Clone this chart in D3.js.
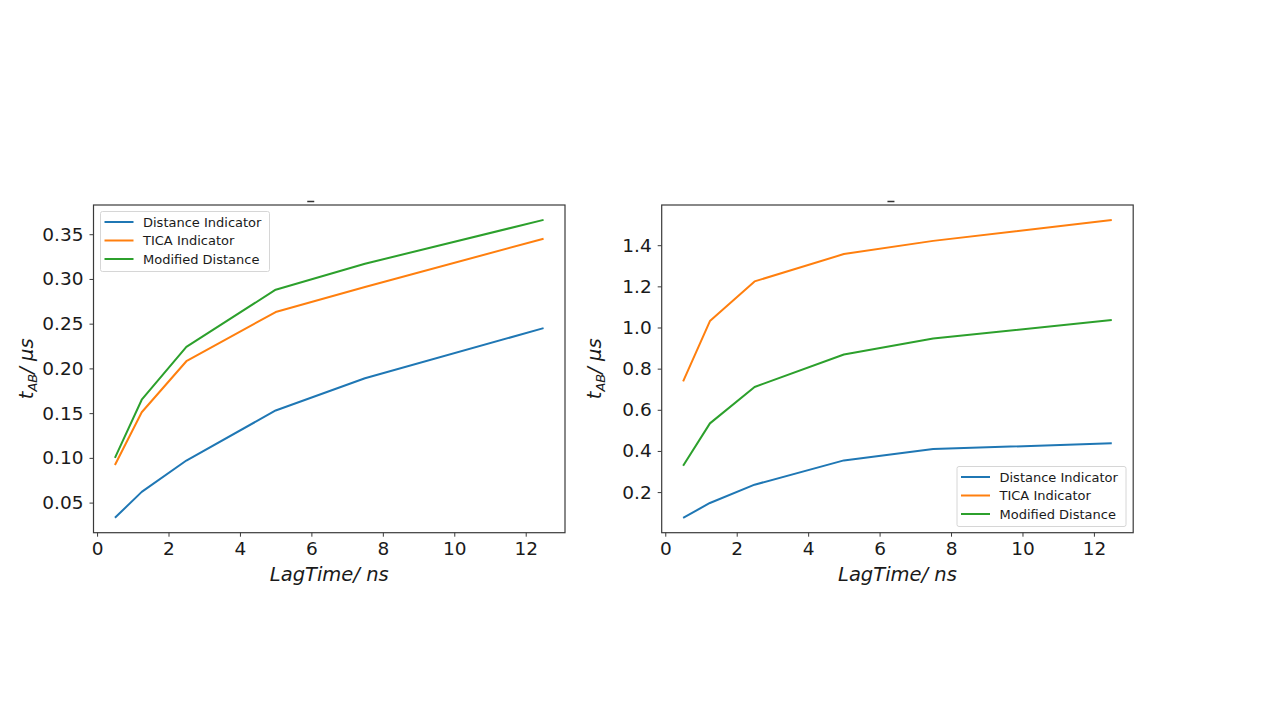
<!DOCTYPE html>
<html>
<head>
<meta charset="utf-8">
<script src="https://cdn.jsdelivr.net/npm/d3@7/dist/d3.min.js"></script>
<style>
  body { margin: 0; background: #fff; }
  svg { display: block; }
  text { font-family: "DejaVu Sans", sans-serif; fill: #1a1a1a; }
</style>
</head>
<body>
<svg id="chart" width="1280" height="720"></svg>
<script>
'use strict';

// lag times (ns) shared by both panels
var lagTimes = [0.5, 1.25, 2.5, 5, 7.5, 12.5];
var seriesNames = ['Distance Indicator', 'TICA Indicator', 'Modified Distance'];
var seriesColors = ['#1f77b4', '#ff7f0e', '#2ca02c'];

// left panel values (t_AB in us)
var leftDistance = [0.033, 0.062, 0.097, 0.153, 0.189, 0.245];
var leftTica = [0.092, 0.151, 0.208, 0.263, 0.291, 0.345];
var leftModified = [0.100, 0.165, 0.224, 0.288, 0.317, 0.366];

// right panel values
var rightDistance = [0.075, 0.147, 0.236, 0.354, 0.409, 0.437];
var rightTica = [0.738, 1.031, 1.224, 1.357, 1.421, 1.523];
var rightModified = [0.328, 0.534, 0.711, 0.869, 0.946, 1.037];

var xTicks = [0, 2, 4, 6, 8, 10, 12];
var leftYTicks = [0.05, 0.10, 0.15, 0.20, 0.25, 0.30, 0.35];
var rightYTicks = [0.2, 0.4, 0.6, 0.8, 1.0, 1.2, 1.4];

function render() {
    var d3 = window.d3;
    var svg = d3.select('#chart');
    var top = 205, bottom = 532.7, width = 471.5;

    // matplotlib-style 5% margins around data
    function padded(vals) {
        var lo = d3.min(vals), hi = d3.max(vals), m = (hi - lo) * 0.05;
        return [lo - m, hi + m];
    }

    function panel(left, series, yTicks, yFmt, legendPos, dashOffset) {
        var g = svg.append('g');
        var x = d3.scaleLinear().domain(padded(lagTimes)).range([left, left + width]);
        var all = [].concat.apply([], series);
        var y = d3.scaleLinear().domain(padded(all)).range([bottom, top]);

        var line = d3.line()
            .x(function (d, i) { return x(lagTimes[i]); })
            .y(function (d) { return y(d); });

        g.selectAll('.series').data(series).enter().append('path')
            .attr('d', line)
            .attr('fill', 'none')
            .attr('stroke', function (d, i) { return seriesColors[i]; })
            .attr('stroke-width', 2)
            .attr('stroke-linejoin', 'round');

        // frame
        g.append('rect')
            .attr('x', left).attr('y', top)
            .attr('width', width).attr('height', bottom - top)
            .attr('fill', 'none').attr('stroke', '#3a3a3a').attr('stroke-width', 1.2);

        // x axis
        var xAxis = d3.axisBottom(x).tickValues(xTicks).tickSize(4).tickPadding(5).tickFormat(d3.format('d'));
        var xa = g.append('g').attr('transform', 'translate(0,' + bottom + ')').call(xAxis);
        xa.select('.domain').remove();
        xa.selectAll('line').attr('stroke', '#3a3a3a');
        xa.selectAll('text').style('font-size', '18.5px').style('font-family', '"DejaVu Sans", sans-serif').attr('fill', '#1a1a1a');

        // y axis
        var yAxis = d3.axisLeft(y).tickValues(yTicks).tickSize(4).tickPadding(6).tickFormat(d3.format(yFmt));
        var ya = g.append('g').attr('transform', 'translate(' + left + ',0)').call(yAxis);
        ya.select('.domain').remove();
        ya.selectAll('line').attr('stroke', '#3a3a3a');
        ya.selectAll('text').style('font-size', '18.5px').style('font-family', '"DejaVu Sans", sans-serif').attr('fill', '#1a1a1a');

        // x label
        g.append('text')
            .attr('x', left + width / 2).attr('y', 581)
            .attr('text-anchor', 'middle')
            .style('font-size', '19.5px').style('font-style', 'italic')
            .text('LagTime/ ns');

        // y label: t_AB / μs
        var yl = g.append('text')
            .attr('transform', 'translate(' + (left - 61) + ',' + ((top + bottom) / 2) + ') rotate(-90)')
            .attr('text-anchor', 'middle')
            .style('font-size', '19.5px').style('font-style', 'italic');
        yl.append('tspan').text('t');
        yl.append('tspan').attr('dy', 4).style('font-size', '13px').text('AB');
        yl.append('tspan').attr('dy', -4).text('/ μs');

        // clipped title remnant
        g.append('line')
            .attr('x1', left + width / 2 + dashOffset).attr('x2', left + width / 2 + dashOffset + 7)
            .attr('y1', 201.5).attr('y2', 201.5)
            .attr('stroke', '#333').attr('stroke-width', 1.5);

        // legend
        var lg = g.append('g').attr('transform', 'translate(' + legendPos[0] + ',' + legendPos[1] + ')');
        lg.append('rect')
            .attr('x', 0).attr('y', 0).attr('width', 169).attr('height', 60).attr('rx', 2)
            .attr('fill', '#fff').attr('fill-opacity', 0.85)
            .attr('stroke', '#d6d6d6');
        var item = lg.selectAll('.item').data(seriesNames).enter().append('g')
            .attr('transform', function (d, i) { return 'translate(0,' + (10.5 + i * 18.5) + ')'; });
        item.append('line')
            .attr('x1', 4).attr('x2', 33)
            .attr('stroke', function (d, i) { return seriesColors[i]; })
            .attr('stroke-width', 2);
        item.append('text')
            .attr('x', 42.5).attr('dy', '0.35em')
            .style('font-size', '13px')
            .text(function (d) { return d; });
    }

    panel(93.5, [leftDistance, leftTica, leftModified], leftYTicks, '.2f', [100.5, 211.5], -22);
    panel(661.7, [rightDistance, rightTica, rightModified], rightYTicks, '.1f', [957, 466.5], -10);
}

render();
</script>
</body>
</html>
